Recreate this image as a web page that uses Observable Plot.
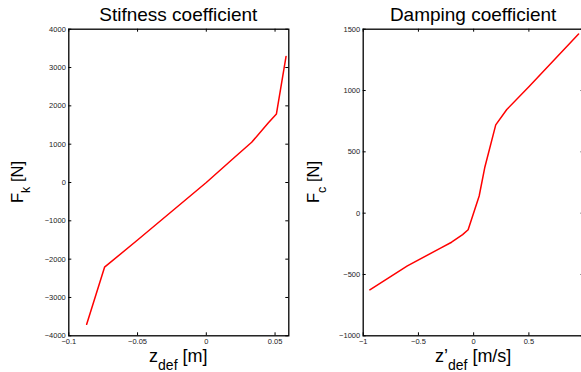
<!DOCTYPE html>
<html><head><meta charset="utf-8">
<script src="https://cdn.jsdelivr.net/npm/d3@7"></script>
<script src="https://cdn.jsdelivr.net/npm/@observablehq/plot@0.6"></script>
<style>
html,body{margin:0;padding:0;background:#fff;overflow:hidden;}
#wrap{position:relative;width:581px;height:372px;overflow:hidden;background:#fff;}
#wrap svg{position:absolute;top:0;}
</style></head><body><div id="wrap"></div>
<script>
// Stiffness panel data
const stiffZ = [-0.087, -0.074, -0.05, -0.025, 0, 0.02, 0.033, 0.045, 0.051, 0.058];
const stiffF = [-3700, -2210, -1500, -750, 0, 640, 1050, 1550, 1790, 3290];
const stiffXTicks = [-0.1, -0.05, 0, 0.05];
const stiffYTicks = [-4000, -3000, -2000, -1000, 0, 1000, 2000, 3000, 4000];
// Damping panel data
const dampV = [-0.94, -0.6, -0.3, -0.2, -0.1, -0.05, 0.05, 0.1, 0.2, 0.3, 0.5, 0.95];
const dampF = [-625, -430, -285, -237, -175, -135, 140, 370, 720, 845, 1030, 1460];
const dampXTicks = [-1, -0.5, 0, 0.5];
const dampYTicks = [-1000, -500, 0, 500, 1000, 1500];

const FONT = "'Liberation Sans', Arial, Helvetica, sans-serif";
const fmt = d => (d < 0 ? "\u2212" : "") + Math.abs(d);

function panel(o) {
  const H = 372;
  const innerW = o.width - o.ml - o.mr;
  const innerH = H - o.mt - o.mb;
  const data = o.xs.map((x, i) => ({x, y: o.ys[i]}));
  const svg = Plot.plot({
    width: o.width, height: H,
    marginLeft: o.ml, marginRight: o.mr, marginTop: o.mt, marginBottom: o.mb,
    style: {fontFamily: FONT, fontSize: "7.5px", color: "#222", background: "transparent", overflow: "visible"},
    x: {domain: o.xDomain},
    y: {domain: o.yDomain},
    marks: [
      Plot.line(data, {x: "x", y: "y", stroke: "#ff0000", strokeWidth: 1.5}),
      Plot.axisX(o.xTicks, {anchor: "bottom", tickSize: 0, tickPadding: 3, tickFormat: fmt, label: null}),
      Plot.axisY(o.yTicks, {anchor: "left", tickSize: 0, tickPadding: 3, tickFormat: fmt, label: null}),
      Plot.tickX(o.xTicks, {x: d => d, insetTop: innerH - 3, stroke: "#000", strokeWidth: 1}),
      Plot.tickX(o.xTicks, {x: d => d, insetBottom: innerH - 3, stroke: "#000", strokeWidth: 1}),
      Plot.tickY(o.yTicks, {y: d => d, insetRight: innerW - 3, stroke: "#000", strokeWidth: 1}),
      Plot.tickY(o.yTicks, {y: d => d, insetLeft: innerW - 3, stroke: "#000", strokeWidth: 1}),
      Plot.frame({stroke: "#000", strokeWidth: 1.3})
    ]
  });
  svg.style.left = o.left + "px";
  const s = d3.select(svg);
  const cx = o.ml + innerW / 2;
  s.append("text").attr("x", cx).attr("y", 20.5).attr("text-anchor", "middle")
    .attr("font-family", FONT).attr("font-size", 19).attr("fill", "#000").text(o.title);
  const xl = s.append("text").attr("x", cx).attr("y", 362).attr("text-anchor", "middle")
    .attr("font-family", FONT).attr("font-size", 18).attr("fill", "#000");
  xl.append("tspan").text(o.xlab[0]);
  xl.append("tspan").attr("font-size", 14).attr("dy", 7.5).text(o.xlab[1]);
  xl.append("tspan").attr("dy", -7.5).text(o.xlab[2]);
  const yl = s.append("text").attr("transform", `translate(${o.ylx},182) rotate(-90)`).attr("text-anchor", "middle")
    .attr("font-family", FONT).attr("font-size", 16.5).attr("fill", "#000");
  yl.append("tspan").text(o.ylab[0]);
  yl.append("tspan").attr("font-size", 12.5).attr("dy", 7).text(o.ylab[1]);
  yl.append("tspan").attr("dy", -7).text(o.ylab[2]);
  document.getElementById("wrap").appendChild(svg);
}

panel({
  left: 0, width: 290, ml: 68.3, mr: 1.7, mt: 28.7, mb: 36.7,
  xs: stiffZ, ys: stiffF, xDomain: [-0.1, 0.06], yDomain: [-4000, 4000],
  xTicks: stiffXTicks, yTicks: stiffYTicks,
  title: "Stifness coefficient", xlab: ["z", "def", " [m]"], ylab: ["F", "k", " [N]"], ylx: 22.5
});
panel({
  left: 290, width: 300, ml: 72.7, mr: 6.4, mt: 28.7, mb: 36.7,
  xs: dampV, ys: dampF, xDomain: [-1, 1], yDomain: [-1000, 1500],
  xTicks: dampXTicks, yTicks: dampYTicks,
  title: "Damping coefficient", xlab: ["z\u2019", "def", " [m/s]"], ylab: ["F", "c", " [N]"], ylx: 29
});
</script></body></html>
